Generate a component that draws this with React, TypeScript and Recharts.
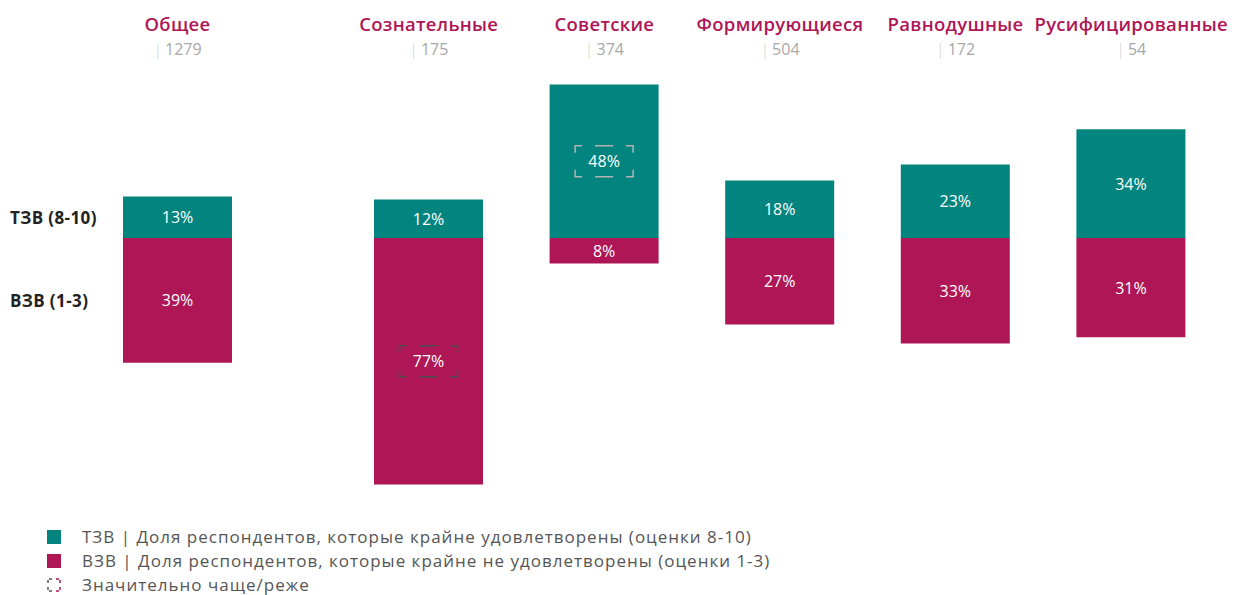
import { BarChart, Bar, XAxis, YAxis, LabelList } from "recharts";

const categories = [
  "Общее",
  "Сознательные",
  "Советские",
  "Формирующиеся",
  "Равнодушные",
  "Русифицированные",
];
const counts = [1279, 175, 374, 504, 172, 54];
const t3bValues = [13, 12, 48, 18, 23, 34];
const b3bValues = [39, 77, 8, 27, 33, 31];
const t3bSignificant = [false, false, true, false, false, false];
const b3bSignificant = [false, true, false, false, false, false];
const rowLabels = ["ТЗВ (8-10)", "ВЗВ (1-3)"];
const legendItems = [
  "ТЗВ | Доля респондентов, которые крайне удовлетворены (оценки 8-10)",
  "ВЗВ | Доля респондентов, которые крайне не удовлетворены (оценки 1-3)",
  "Значительно чаще/реже",
];

const TEAL = "#03847F";
const MAGENTA = "#AE1656";
const FONT = "'Open Sans', Lato, sans-serif";

const rows = categories.map((name, i) => ({
  name,
  n: counts[i],
  top: t3bValues[i],
  bottom: -b3bValues[i],
  topSig: t3bSignificant[i],
  bottomSig: b3bSignificant[i],
}));

const countByName: Record<string, number> = {};
rows.forEach((r) => (countByName[r.name] = r.n));

const DOMAIN: [number, number] = [-80, 50];

// eslint-disable-next-line @typescript-eslint/no-explicit-any
function HeaderTick(props: any) {
  const { x, payload } = props;
  const n = countByName[payload.value];
  return (
    <g>
      <text
        x={x}
        y={23}
        textAnchor="middle"
        dominantBaseline="central"
        fill={MAGENTA}
        fontSize={18.5}
        fontWeight={600}
        letterSpacing={0.3}
        fontFamily={FONT}
      >
        {payload.value}
      </text>
      <text
        x={x}
        y={49}
        textAnchor="middle"
        dominantBaseline="central"
        fontSize={16}
        fontFamily={FONT}
      >
        <tspan fill="#d0d0d0" fontWeight={300}>|</tspan>
        <tspan fill="#a8a8a8" dx={3}>
          {n}
        </tspan>
      </text>
    </g>
  );
}

function sigBox(cx: number, cy: number, color: string) {
  const w = 58;
  const h = 31;
  const x0 = cx - w / 2;
  const y0 = cy - h / 2;
  const x1 = x0 + w;
  const y1 = y0 + h;
  const a = 7;
  const m = 9;
  const d = [
    `M${x0},${y0 + a}V${y0}H${x0 + a}`,
    `M${x1 - a},${y0}H${x1}V${y0 + a}`,
    `M${x1},${y1 - a}V${y1}H${x1 - a}`,
    `M${x0 + a},${y1}H${x0}V${y1 - a}`,
    `M${cx - m},${y0}H${cx + m}`,
    `M${cx - m},${y1}H${cx + m}`,
  ].join("");
  return <path d={d} fill="none" stroke={color} strokeWidth={1.5} />;
}

function makeValueLabel(sigKey: "topSig" | "bottomSig", boxColor: string, data: typeof rows) {
  // eslint-disable-next-line @typescript-eslint/no-explicit-any
  return (props: any) => {
    const { x, y, width, height, value, index } = props;
    const top = Math.min(y, y + height);
    const cx = x + width / 2;
    const cy = top + Math.abs(height) / 2;
    const sig = data[index]?.[sigKey];
    return (
      <g>
        {sig && sigBox(cx, cy, boxColor)}
        <text
          x={cx}
          y={cy}
          textAnchor="middle"
          dominantBaseline="central"
          fill="#fff"
          fontSize={16}
          fontFamily={FONT}
        >
          {`${Math.abs(value)}%`}
        </text>
      </g>
    );
  };
}

// eslint-disable-next-line @typescript-eslint/no-explicit-any
function RowTick(props: any) {
  const { y, index } = props;
  return (
    <text
      x={10}
      y={y}
      textAnchor="start"
      dominantBaseline="central"
      fill="#222"
      fontSize={17}
      fontWeight={700}
      letterSpacing={0.4}
      fontFamily={FONT}
    >
      {rowLabels[index]}
    </text>
  );
}

function Bars({ data }: { data: typeof rows }) {
  return [
    <Bar key="top" dataKey="top" stackId="a" fill={TEAL} isAnimationActive={false}>
      <LabelList dataKey="top" content={makeValueLabel("topSig", "#b4b4b4", data)} />
    </Bar>,
    <Bar key="bottom" dataKey="bottom" stackId="a" fill={MAGENTA} isAnimationActive={false}>
      <LabelList dataKey="bottom" content={makeValueLabel("bottomSig", "#4d4d4d", data)} />
    </Bar>,
  ];
}

export default function App() {
  const totalData = rows.slice(0, 1);
  const segmentData = rows.slice(1);
  const rowTicks = [t3bValues[0] / 2, -b3bValues[0] / 2];

  return (
    <div
      style={{
        position: "absolute",
        left: 0,
        top: 0,
        width: 1238,
        height: 595,
        background: "#fff",
        fontFamily: FONT,
      }}
    >
      <div style={{ position: "absolute", left: 0, top: 0 }}>
        <BarChart
          width={237}
          height={500}
          data={totalData}
          stackOffset="sign"
          barSize={109}
          margin={{ top: 8, right: 0, bottom: 6, left: 0 }}
        >
          <XAxis
            dataKey="name"
            orientation="top"
            height={70}
            axisLine={false}
            tickLine={false}
            interval={0}
            tick={<HeaderTick />}
          />
          <YAxis
            domain={DOMAIN}
            ticks={rowTicks}
            width={118}
            axisLine={false}
            tickLine={false}
            interval={0}
            tick={<RowTick />}
          />
          {Bars({ data: totalData })}
        </BarChart>
      </div>
      <div style={{ position: "absolute", left: 341, top: 0 }}>
        <BarChart
          width={897}
          height={500}
          data={segmentData}
          stackOffset="sign"
          barSize={109}
          margin={{ top: 8, right: 19, bottom: 6, left: 0 }}
        >
          <XAxis
            dataKey="name"
            orientation="top"
            height={70}
            axisLine={false}
            tickLine={false}
            interval={0}
            tick={<HeaderTick />}
          />
          <YAxis domain={DOMAIN} hide />
          {Bars({ data: segmentData })}
        </BarChart>
      </div>
      <div
        style={{
          position: "absolute",
          left: 47,
          top: 525,
          fontSize: 17,
          color: "#555",
          lineHeight: "24px",
          letterSpacing: 1,
        }}
      >
        {legendItems.map((label, i) => (
          <div key={label} style={{ display: "flex", alignItems: "center" }}>
            <svg width={14} height={14} style={{ marginRight: 21 }}>
              {i === 0 && <rect width={14} height={14} fill={TEAL} />}
              {i === 1 && <rect width={14} height={14} fill={MAGENTA} />}
              {i === 2 && (
                <g fill="none" strokeWidth={1.5}>
                  <path d="M1,5V1H5M1,9V13H5" stroke="#555" strokeDasharray="3 2" />
                  <path d="M9,1H13V5M13,9V13H9" stroke={MAGENTA} strokeDasharray="3 2" />
                </g>
              )}
            </svg>
            <span>{label}</span>
          </div>
        ))}
      </div>
    </div>
  );
}
